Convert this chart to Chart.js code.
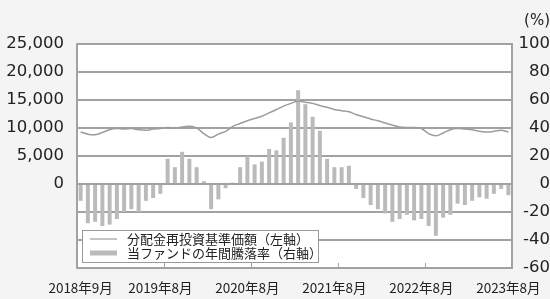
<!DOCTYPE html>
<html><head><meta charset="utf-8">
<script src="https://cdn.jsdelivr.net/npm/chart.js@4.4.1/dist/chart.umd.min.js"></script>
<style>html,body{margin:0;padding:0;background:#f4f4f4;overflow:hidden}#wrap{width:550px;height:299px;position:relative}</style>
</head><body><div id="wrap"><canvas id="c" width="550" height="299"></canvas></div>
<script>
// months Sep 2018 .. Aug 2023
const startYear = 2018, startMonth = 9, monthCount = 60;
const categories = [];
for (let i = 0; i < monthCount; i++) {
  const m = (startMonth - 1 + i) % 12 + 1;
  const y = startYear + Math.floor((startMonth - 1 + i) / 12);
  categories.push(y + '年' + m + '月');
}
const xTickIndex = [0, 11, 23, 35, 47, 59];
const xTickText = ['2018年9月', '2019年8月', '2020年8月', '2021年8月', '2022年8月', '2023年8月'];

// 分配金再投資基準価額 (left axis, 円)
const navValues = [
  9300, 8900, 8800, 9200, 9700, 9900, 9800, 9900, 9700, 9600,
  9800, 9900, 10100, 10000, 10200, 10300, 10000, 9000, 8300, 8900,
  9400, 10300, 10800, 11300, 11700, 12100, 12700, 13300, 13900, 14400,
  14800, 14600, 14400, 14000, 13700, 13300, 13100, 12900, 12400, 12000,
  11600, 11300, 10900, 10500, 10200, 10100, 10100, 9900, 9000, 8600,
  9100, 9700, 9900, 9800, 9700, 9400, 9300, 9400, 9600, 9300
];
// 当ファンドの年間騰落率 (right axis, %)
const returnValues = [
  -12, -28, -27, -30, -29, -25, -20, -18, -20, -12,
  -10, -7, 18, 12, 23, 18, 12, 2, -18, -11,
  -3, 1, 12, 20, 14, 16, 25, 24, 33, 44,
  67, 57, 48, 38, 18, 12, 12, 13, -3.5, -10,
  -15, -18, -21, -27, -25, -22, -26, -25, -30, -37,
  -24, -22, -14, -15, -12, -9.5, -10.5, -7, -3.5, -8
];
const seriesLabels = ['分配金再投資基準価額（左軸）', '当ファンドの年間騰落率（右軸）'];
const leftMin = -15000, leftMax = 25000, leftStep = 5000;
const rightMin = -60, rightMax = 100, rightStep = 20;
const rightUnit = '(%)';

const lineColor = '#9c9c9c', barColor = '#bababa', gridColor = '#a2a2a2', textColor = '#222222';

const plotBg = {
  id: 'plotBg',
  beforeDraw(chart) {
    const {ctx, chartArea: a} = chart;
    ctx.save(); ctx.fillStyle = '#ffffff';
    ctx.fillRect(a.left, a.top, a.right - a.left, a.bottom - a.top);
    ctx.restore();
  }
};
const extras = {
  id: 'extras',
  afterDraw(chart) {
    const {ctx, chartArea: a, scales} = chart;
    const x = scales.x;
    ctx.save();
    // inward year ticks
    ctx.strokeStyle = gridColor; ctx.lineWidth = 1;
    [12, 24, 36, 48].forEach(k => {
      const px = Math.round((x.getPixelForValue(k - 1) + x.getPixelForValue(k)) / 2) + 0.5;
      ctx.beginPath(); ctx.moveTo(px, a.bottom); ctx.lineTo(px, a.bottom - 5); ctx.stroke();
    });
    // unit
    ctx.fillStyle = textColor; ctx.font = '15px "DejaVu Sans"';
    ctx.textAlign = 'right'; ctx.textBaseline = 'middle';
    ctx.fillText(rightUnit, 550, a.top - 23);
    // legend
    const lx = a.left + 5, ly = a.bottom - 38, lw = 236, lh = 32;
    ctx.fillStyle = '#ffffff'; ctx.fillRect(lx, ly, lw, lh);
    ctx.strokeStyle = '#9a9a9a'; ctx.lineWidth = 1;
    ctx.strokeRect(Math.round(lx) + 0.5, Math.round(ly) + 0.5, lw, lh);
    const ds = chart.data.datasets;
    const rows = [ly + 9, ly + 23];
    ctx.strokeStyle = '#b0b0b0'; ctx.lineWidth = 1.5;
    ctx.beginPath(); ctx.moveTo(lx + 8, rows[0]); ctx.lineTo(lx + 35, rows[0]); ctx.stroke();
    ctx.strokeStyle = barColor; ctx.lineWidth = 5;
    ctx.beginPath(); ctx.moveTo(lx + 8, rows[1]); ctx.lineTo(lx + 35, rows[1]); ctx.stroke();
    ctx.fillStyle = textColor; ctx.font = '13px "Noto Sans CJK JP"';
    ctx.textAlign = 'left'; ctx.textBaseline = 'middle';
    ctx.fillText(ds[1].label, lx + 45, rows[0]);
    ctx.fillText(ds[0].label, lx + 45, rows[1]);
    ctx.restore();
  }
};

new Chart(document.getElementById('c'), {
  data: {
    labels: categories,
    datasets: [
      { type: 'bar', label: seriesLabels[1], data: returnValues, yAxisID: 'yR',
        backgroundColor: barColor, barPercentage: 0.55, categoryPercentage: 1.0, order: 2 },
      { type: 'line', label: seriesLabels[0], data: navValues, yAxisID: 'yL',
        borderColor: lineColor, borderWidth: 1.5, pointRadius: 0, tension: 0.35, order: 1 }
    ]
  },
  options: {
    responsive: false, animation: false,
    layout: { padding: { top: 44, left: 0, right: 0, bottom: 0 } },
    plugins: { legend: { display: false }, tooltip: { enabled: false } },
    scales: {
      x: {
        type: 'category', offset: true,
        grid: { display: false },
        border: { display: true, color: gridColor, width: 2 },
        ticks: {
          autoSkip: false, maxRotation: 0, minRotation: 0, padding: 4,
          color: textColor, font: { family: 'Noto Sans CJK JP', size: 13.5 },
          callback: (v, i) => { const k = xTickIndex.indexOf(i); return k >= 0 ? xTickText[k] : ''; }
        },
        afterFit: s => { s.height = 31; }
      },
      yL: {
        position: 'left', min: leftMin, max: leftMax,
        grid: { display: false },
        border: { display: true, color: gridColor, width: 2 },
        ticks: { stepSize: leftStep, padding: 5, color: textColor,
          font: { family: 'DejaVu Sans', size: 16.5 },
          callback: v => v < 0 ? '' : v.toLocaleString('en-US') },
        afterFit: s => { s.width = 77; }
      },
      yR: {
        position: 'right', min: rightMin, max: rightMax,
        grid: { display: true, color: gridColor, lineWidth: 2, drawTicks: false },
        border: { display: true, color: gridColor, width: 2 },
        ticks: { stepSize: rightStep, padding: 4, crossAlign: 'far', color: textColor,
          font: { family: 'DejaVu Sans', size: 16.5 } },
        afterFit: s => { s.width = 38; }
      }
    }
  },
  plugins: [plotBg, extras]
});
</script></body></html>
